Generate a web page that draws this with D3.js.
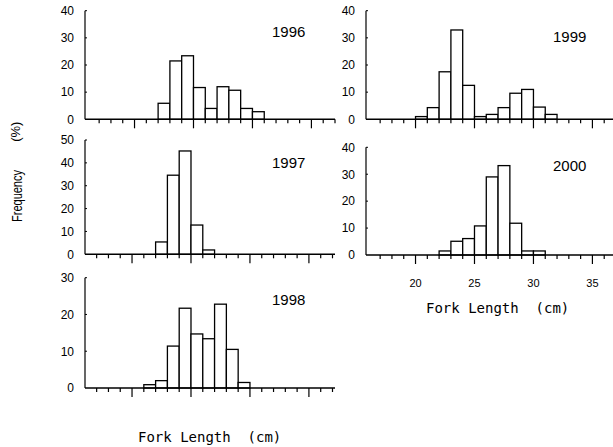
<!DOCTYPE html>
<html>
<head>
<meta charset="utf-8">
<script src="https://cdn.jsdelivr.net/npm/d3@7/dist/d3.min.js"></script>
<style>
  html, body { margin: 0; padding: 0; background: #fff; }
  svg { display: block; }
  .pre { white-space: pre; }
</style>
</head>
<body>
<svg id="chart" width="613" height="447"></svg>
<script>
// Fork length classes (cm, lower bound of each 1-cm class) and frequencies (%)
const years = ["1996", "1997", "1998", "1999", "2000"];
const classes1996 = [22, 23, 24, 25, 26, 27, 28, 29, 30];
const freq1996    = [5.9, 21.5, 23.4, 11.7, 4.0, 12.0, 10.7, 4.0, 2.8];
const classes1997 = [22, 23, 24, 25, 26];
const freq1997    = [5.4, 34.6, 45.2, 12.8, 1.9];
const classes1998 = [21, 22, 23, 24, 25, 26, 27, 28, 29];
const freq1998    = [0.9, 2.0, 11.4, 21.7, 14.7, 13.4, 22.8, 10.5, 1.5];
const classes1999 = [20, 21, 22, 23, 24, 25, 26, 27, 28, 29, 30, 31];
const freq1999    = [1.0, 4.3, 17.5, 32.9, 12.5, 1.0, 1.8, 4.3, 9.6, 11.0, 4.5, 1.8];
const classes2000 = [22, 23, 24, 25, 26, 27, 28, 29, 30];
const freq2000    = [1.5, 5.1, 6.1, 10.8, 29.0, 33.2, 11.8, 1.5, 1.5];

const yTicks1996 = [0, 10, 20, 30, 40];
const yTicks1997 = [0, 10, 20, 30, 40, 50];
const yTicks1998 = [0, 10, 20, 30];
const yTicks1999 = [0, 10, 20, 30, 40];
const yTicks2000 = [0, 10, 20, 30, 40];

const xMajorTicks = [20, 25, 30, 35];
const xDomain = [15.8, 37];
const xTitle = "Fork Length  (cm)";
const yTitle = "Frequency";
const yUnit = "(%)";

const panels = [
  { year: years[0], classes: classes1996, freq: freq1996, ticks: yTicks1996,
    left: 85, shift: 0, top: 10.7, bottom: 119.3, yearDy: -88, xLabels: false },
  { year: years[1], classes: classes1997, freq: freq1997, ticks: yTicks1997,
    left: 85, shift: -2.5, top: 140, bottom: 254.3, yearDy: -92, xLabels: false },
  { year: years[2], classes: classes1998, freq: freq1998, ticks: yTicks1998,
    left: 85, shift: -2.5, top: 277.7, bottom: 388, yearDy: -88, xLabels: false },
  { year: years[3], classes: classes1999, freq: freq1999, ticks: yTicks1999,
    left: 366, shift: 0, top: 10.7, bottom: 119.3, yearDy: -83, xLabels: false },
  { year: years[4], classes: classes2000, freq: freq2000, ticks: yTicks2000,
    left: 366, shift: 0, top: 147.3, bottom: 255, yearDy: -89, xLabels: true }
];

const svg = d3.select("#chart");
const plotWidth = 250;
const tickFont = "'Liberation Sans', Arial, sans-serif";
const monoFont = "'DejaVu Sans Mono', monospace";

panels.forEach(p => {
  const yMax = p.ticks[p.ticks.length - 1];
  const x = d3.scaleLinear().domain(xDomain)
    .range([p.left + p.shift, p.left + p.shift + plotWidth]);
  const y = d3.scaleLinear().domain([0, yMax]).range([p.bottom, p.top]);
  const g = svg.append("g");

  // histogram bars
  g.selectAll("rect.bar")
    .data(p.classes.map((c, i) => ({ c, v: p.freq[i] })))
    .join("rect")
    .attr("class", "bar")
    .attr("x", d => x(d.c))
    .attr("width", d => x(d.c + 1) - x(d.c))
    .attr("y", d => y(d.v))
    .attr("height", d => y(0) - y(d.v))
    .attr("fill", "#fff")
    .attr("stroke", "#000")
    .attr("stroke-width", 1.3);

  // y axis: line, short inner ticks, labels
  g.append("line")
    .attr("x1", p.left).attr("x2", p.left)
    .attr("y1", y(yMax)).attr("y2", y(0))
    .attr("stroke", "#000").attr("stroke-width", 1.2);
  g.selectAll("line.ytick")
    .data(p.ticks.filter(t => t > 0))
    .join("line")
    .attr("class", "ytick")
    .attr("x1", p.left).attr("x2", p.left + 2)
    .attr("y1", d => y(d)).attr("y2", d => y(d))
    .attr("stroke", "#000").attr("stroke-width", 1);
  g.selectAll("text.ylab")
    .data(p.ticks)
    .join("text")
    .attr("class", "ylab")
    .attr("x", p.left - 11)
    .attr("y", d => y(d))
    .attr("dy", "0.36em")
    .attr("text-anchor", "end")
    .attr("font-family", tickFont)
    .attr("font-size", 12)
    .text(d => d);

  // x axis: baseline with minor (1 cm) and major (5 cm) ticks
  g.append("line")
    .attr("x1", p.left).attr("x2", p.left + plotWidth)
    .attr("y1", y(0)).attr("y2", y(0))
    .attr("stroke", "#000").attr("stroke-width", 1.6);
  const minor = d3.range(17, 38).filter(t => x(t) <= p.left + plotWidth + 0.5);
  g.selectAll("line.xtick")
    .data(minor)
    .join("line")
    .attr("class", "xtick")
    .attr("x1", d => x(d)).attr("x2", d => x(d))
    .attr("y1", y(0))
    .attr("y2", d => y(0) + (xMajorTicks.includes(d) ? 9 : 4))
    .attr("stroke", "#000").attr("stroke-width", 1.2);

  if (p.xLabels) {
    g.selectAll("text.xlab")
      .data(xMajorTicks)
      .join("text")
      .attr("class", "xlab")
      .attr("x", d => x(d))
      .attr("y", y(0) + 32)
      .attr("text-anchor", "middle")
      .attr("font-family", tickFont)
      .attr("font-size", 11)
      .text(d => d);
  }

  // year label
  g.append("text")
    .attr("x", p.left + 187)
    .attr("y", y(0) + p.yearDy)
    .attr("dy", "0.36em")
    .attr("font-family", tickFont)
    .attr("font-size", 15)
    .text(p.year);
});

// axis titles
svg.append("text")
  .attr("class", "pre")
  .attr("x", 426).attr("y", 313)
  .attr("font-family", monoFont)
  .attr("font-size", 14)
  .text(xTitle);
svg.append("text")
  .attr("class", "pre")
  .attr("x", 138).attr("y", 442)
  .attr("font-family", monoFont)
  .attr("font-size", 14)
  .text(xTitle);

svg.append("text")
  .attr("transform", "translate(22,196) rotate(-90)")
  .attr("text-anchor", "middle")
  .attr("font-family", tickFont)
  .attr("font-size", 14)
  .attr("textLength", 52)
  .attr("lengthAdjust", "spacingAndGlyphs")
  .text(yTitle);
svg.append("text")
  .attr("transform", "translate(20,131.7) rotate(-90)")
  .attr("text-anchor", "middle")
  .attr("font-family", tickFont)
  .attr("font-size", 13)
  .text(yUnit);
</script>
</body>
</html>
